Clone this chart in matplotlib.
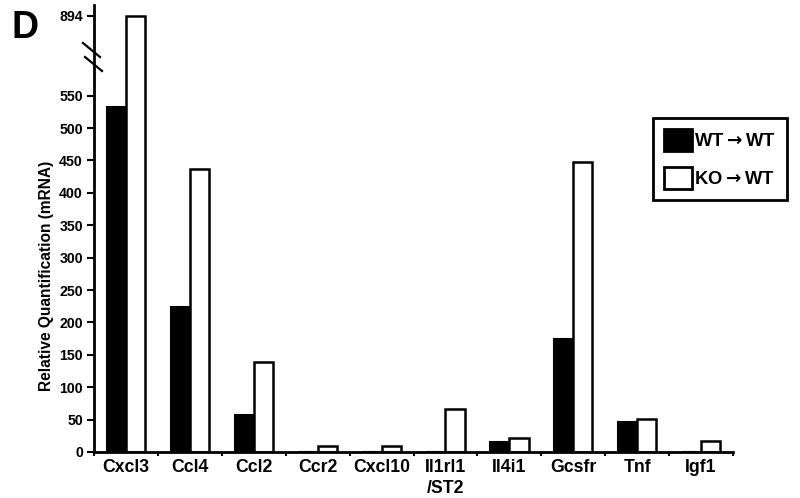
import numpy as np
import matplotlib
matplotlib.use("Agg")
import matplotlib.pyplot as plt
from matplotlib.patches import Patch

plt.rcParams['font.family'] = ['Liberation Sans', 'DejaVu Sans']
plt.rcParams['font.weight'] = 'bold'
plt.rcParams['mathtext.fontset'] = 'dejavusans'

# data
genes = ['Cxcl3', 'Ccl4', 'Ccl2', 'Ccr2', 'Cxcl10', 'Il1rl1\n/ST2', 'Il4i1', 'Gcsfr', 'Tnf', 'Igf1']
wt_wt = [533, 224, 57, 0, 0, 0, 15, 175, 46, 0]
ko_wt = [894, 437, 139, 9, 9, 67, 21, 447, 51, 17]
yticks = [0, 50, 100, 150, 200, 250, 300, 350, 400, 450, 500, 550, 894]

# broken axis: linear up to 600, compressed above
cut = 600.0
k = 73.0 / 294.0

def forward(v):
    v = np.asarray(v, dtype=float)
    return np.where(v <= cut, v, cut + (v - cut) * k)

def inverse(v):
    v = np.asarray(v, dtype=float)
    return np.where(v <= cut, v, cut + (v - cut) / k)

fig = plt.figure(figsize=(8, 4.98), dpi=100)
ax = fig.add_axes([0.1175, 0.0924, 0.7988, 0.8976])
ax.set_yscale('function', functions=(forward, inverse))

x = np.arange(len(genes))
w = 0.3
ax.bar(x - w / 2, wt_wt, w, color='black', edgecolor='black', linewidth=1.5)
ax.bar(x + w / 2, ko_wt, w, color='white', edgecolor='black', linewidth=1.8)

ax.set_xlim(-0.5, len(genes) - 0.5)
ax.set_ylim(0, inverse(690))

ax.set_yticks(yticks)
ax.set_yticklabels([str(t) for t in yticks], fontsize=10.2, fontweight='bold')
ax.set_xticks(x)
ax.set_xticklabels(genes, fontsize=12.7, fontweight='bold', linespacing=1.3)
ax.tick_params(axis='x', length=0, pad=5)
ax.set_xticks(np.arange(-0.5, len(genes)), minor=True)
ax.tick_params(axis='x', which='minor', length=3, width=1.5, direction='out')
ax.tick_params(axis='y', length=5, width=1.5, direction='out', pad=3)

for s in ['top', 'right']:
    ax.spines[s].set_visible(False)
for s in ['left', 'bottom']:
    ax.spines[s].set_linewidth(2)

ax.set_ylabel('Relative Quantification (mRNA)', fontsize=11.2, fontweight='bold')
ax.yaxis.set_label_coords(-0.062, 0.394)

# break marks on the y axis
trans = fig.transFigure
for (x0, y0) in [(83, 43), (85, 57)]:
    fig.add_artist(plt.Line2D([x0 / 800, (x0 + 17) / 800], [1 - y0 / 498, 1 - (y0 + 14) / 498],
                              color='black', lw=1.6, transform=trans))

fig.text(11 / 800, 1 - 38 / 498, 'D', fontsize=27, fontweight='bold')

handles = [Patch(facecolor='black', edgecolor='black', linewidth=2, label='WT$\\rightarrow$WT'),
           Patch(facecolor='white', edgecolor='black', linewidth=2, label='KO$\\rightarrow$WT')]
leg = fig.legend(handles=handles, loc='upper left', bbox_to_anchor=(653 / 800, 1 - 118 / 498),
                 borderaxespad=0, frameon=True, fancybox=False, framealpha=1,
                 handlelength=1.5, handleheight=1.5, handletextpad=0.15,
                 labelspacing=0.85, borderpad=0.6, prop={'weight': 'bold', 'size': 13.2})
leg.get_frame().set_edgecolor('black')
leg.get_frame().set_linewidth(2)

fig.savefig('out.png', dpi=100)
